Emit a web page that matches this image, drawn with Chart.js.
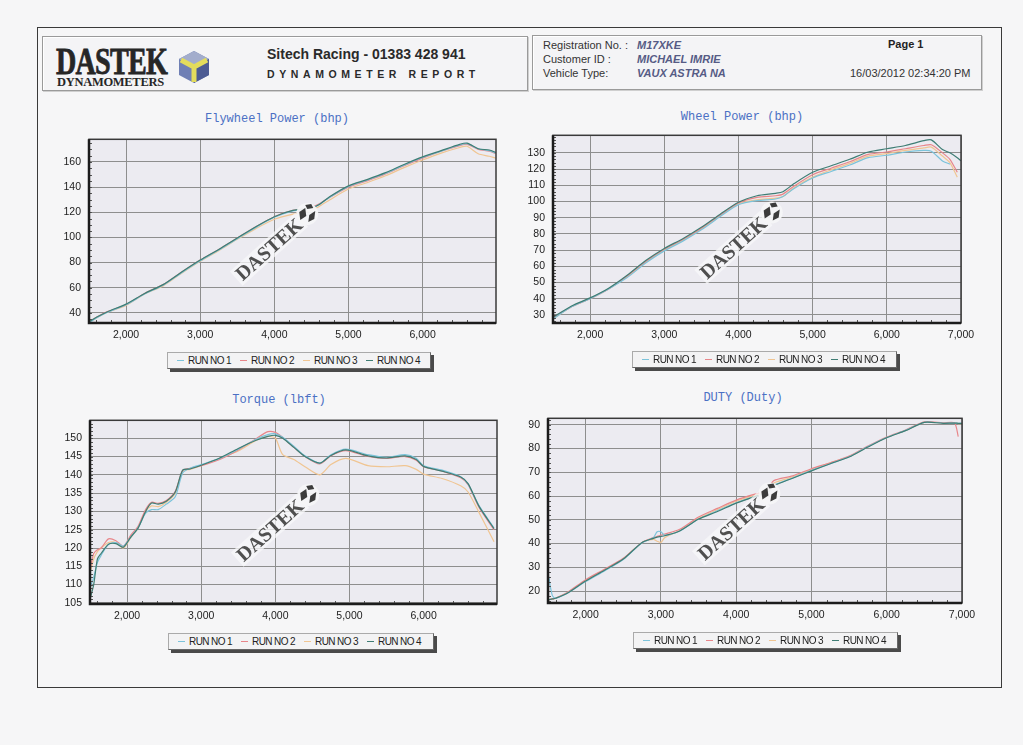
<!DOCTYPE html>
<html>
<head>
<meta charset="utf-8">
<script src="https://cdn.jsdelivr.net/npm/chart.js@4.4.1/dist/chart.umd.min.js"></script>
<style>
body{margin:0;background:#f6f6f7;width:1023px;height:745px;position:relative;overflow:hidden;font-family:"Liberation Sans",Arial,sans-serif;color:#222}
.abs{position:absolute}
#frame{left:37px;top:27px;width:963px;height:659px;border:1px solid #3a3a3a}
.hbox{border:1px solid #9a9a9a;box-shadow:inset 1px 1px 0 #fff,1px 1px 0 #cfcfcf;background:#f4f4f6}
.lbl{font-size:11px;color:#333}
.val{font-size:11px;font-weight:bold;font-style:italic;color:#565b85}
.ttl{font-family:"Liberation Mono","Courier New",monospace;font-size:12px;color:#4b70c4;width:240px;text-align:center}
.legend{height:15px;border:1px solid #666;border-top-color:#aaa;border-left-color:#aaa;background:#f3f3f4;box-shadow:3px 3px 0 #4a4a4a;display:flex;align-items:center;font-size:10px;letter-spacing:-0.6px;color:#222}
.legend .it{width:63px;display:flex;align-items:center;white-space:nowrap}
.legend .ln{display:inline-block;width:8px;height:1px;margin:0 4px 0 9px}
canvas{position:absolute}
</style>
</head>
<body>
<div id="frame" class="abs"></div>

<div class="abs hbox" style="left:42px;top:36px;width:484px;height:53px"></div>
<div class="abs" style="left:56px;top:40px;font-family:'Liberation Serif',serif;font-weight:bold;font-size:37px;color:#262626;transform:scaleX(0.76);transform-origin:left top;letter-spacing:-1px;-webkit-text-stroke:0.8px #262626">DASTEK</div>
<div class="abs" style="left:57px;top:75px;font-family:'Liberation Serif',serif;font-weight:bold;font-size:12.5px;color:#262626;letter-spacing:-0.3px">DYNAMOMETERS</div>
<svg class="abs" style="left:176px;top:49px" width="36" height="36" viewBox="0 0 36 36">
  <polygon points="18,2 33,10 33,26 18,34 3,26 3,10" fill="#6f7fb5"/>
  <polygon points="18,2 33,10 18,18 3,10" fill="#a3adcc"/>
  <polygon points="18,18 33,10 33,26 18,34" fill="#4c5b93"/>
  <path d="M18,18 L18,33 M18,18 L5,11 M18,18 L31,11" stroke="#e3dc5c" stroke-width="5" fill="none"/>
</svg>
<div class="abs" style="left:267px;top:46px;font-size:14px;font-weight:bold;color:#2a2a2a">Sitech Racing - 01383 428 941</div>
<div class="abs" style="left:267px;top:68px;font-size:10.5px;font-weight:bold;letter-spacing:4.6px;color:#2a2a2a">DYNAMOMETER REPORT</div>

<div class="abs hbox" style="left:532px;top:35px;width:448px;height:53px"></div>
<div class="abs lbl" style="left:543px;top:39px">Registration No. :</div>
<div class="abs lbl" style="left:543px;top:53px">Customer ID :</div>
<div class="abs lbl" style="left:543px;top:67px">Vehicle Type:</div>
<div class="abs val" style="left:637px;top:39px">M17XKE</div>
<div class="abs val" style="left:637px;top:53px">MICHAEL IMRIE</div>
<div class="abs val" style="left:637px;top:67px">VAUX ASTRA NA</div>
<div class="abs lbl" style="left:888px;top:38px;font-weight:bold;color:#222">Page 1</div>
<div class="abs lbl" style="left:850px;top:67px">16/03/2012 02:34:20 PM</div>

<div class="abs ttl" style="left:157px;top:112px">Flywheel Power (bhp)</div>
<div class="abs ttl" style="left:622px;top:110px">Wheel Power (bhp)</div>
<div class="abs ttl" style="left:159px;top:393px">Torque (lbft)</div>
<div class="abs ttl" style="left:623px;top:391px">DUTY (Duty)</div>

<canvas id="c1" width="470" height="225" style="left:40px;top:125px"></canvas>
<canvas id="c2" width="480" height="229" style="left:505px;top:121px"></canvas>
<canvas id="c3" width="470" height="226" style="left:40px;top:406px"></canvas>
<canvas id="c4" width="480" height="226" style="left:505px;top:404px"></canvas>

<div id="lg1" class="abs legend" style="left:167px;top:352px;width:262px"></div>
<div id="lg2" class="abs legend" style="left:632px;top:351px;width:263px"></div>
<div id="lg3" class="abs legend" style="left:168px;top:633px;width:264px"></div>
<div id="lg4" class="abs legend" style="left:633px;top:632px;width:263px"></div>

<script>
const runNames = ["RUN NO 1","RUN NO 2","RUN NO 3","RUN NO 4"];
const runColors = ["#7cc3da","#e8868a","#f0c592","#3f7d74"];

// x tick labels (rpm) shared by all four charts
const rpmTicks = [2000,3000,4000,5000,6000,7000];

// Flywheel power (bhp)
const fwTicks = [40,60,80,100,120,140,160];
const fwRpm  = [1500,1600,1750,2000,2250,2500,2750,3000,3250,3500,3750,4000,4250,4500,4600,4750,5000,5250,5500,5750,6000,6250,6500,6600,6750,6900,6990];
const fwRun1 = [32,36,40.5,46.5,55,62,72,81.5,90,99,108,116,121,123.5,126,132,140.5,145.5,151,157.5,163.5,168.5,173.5,174.5,170.5,169,167];
const fwRun2 = [33,36.5,41,46.5,55.5,62.5,72.5,82,90.5,99.5,108.5,116.5,121.5,124,126.5,132,140,145,150.5,157,163,168.5,173,174,170,168.5,166.5];
const fwRun3 = [32.5,36,40.5,46,55,61.5,71.5,81,89.5,98.5,107,114.5,118.5,121.5,124.5,130,138.5,143.5,149,155.5,161.5,167,171.5,172.5,166.5,164.5,163];
const fwRun4 = [33,36.5,41,47,55.5,62.5,72.5,82,90.5,99.5,108.5,116.5,121.5,123.5,126,132.5,141,146,151.5,158,164,169,174,175,170.5,169.5,167.5];

// Wheel power (bhp)
const wpTicks = [30,40,50,60,70,80,90,100,110,120,130];
const wpRpm  = [1500,1750,2000,2250,2500,2750,3000,3250,3500,3750,4000,4250,4500,4600,4750,5000,5250,5500,5750,6000,6250,6500,6600,6750,6850,6950,7000];
const wpRun1 = [27.5,35,40,46,53,62,69.5,75.5,82.5,90.5,98,100.5,101.5,103,108,114.5,118.5,122.5,127,128.5,130.5,131.5,131,125,123,null,null];
const wpRun2 = [28,35,40,46,54,63,70.5,76.5,83.5,91.5,99,102.5,103.5,104.5,109.5,116.5,120.5,124.5,129,130.5,132.5,134.5,135,130,126,118,null];
const wpRun3 = [27.5,35,40,46,53.5,62.5,70,76,83,91,98.5,101,102,103,108.5,115,119.5,123.5,128,129.5,131.5,133,133.5,128,124,115,null];
const wpRun4 = [28.5,35.5,40.5,46.5,54.5,63.5,71,77,84,92,99.5,103.5,105,106,111,118,122,126,130.5,132.5,134.5,137.5,138,132,130,127,125];

// Torque (lbft)
const tqTicks = [105,110,115,120,125,130,135,140,145,150];
const tqRpm  = [1500,1550,1600,1650,1750,1850,1950,2050,2150,2250,2330,2420,2530,2650,2750,2850,3000,3250,3500,3750,3900,4000,4100,4250,4400,4600,4750,4950,5250,5500,5750,5900,6000,6250,6500,6600,6750,6950];
const tqRun1 = [109,112,116,118,121,121.5,120.5,123,125.5,129.5,130.5,130.5,132,134,140.5,141.8,142.8,144.5,147,149.8,151,151.2,150.3,147.8,145.2,143.2,145.5,147,145.5,144.8,145.5,144.5,142.5,141.3,139.5,137.5,131.5,125.5];
const tqRun2 = [114,118.5,119.5,120,122.5,122,120.5,123.5,126,130.5,132.5,132.2,133,135.5,141.2,141.8,142.5,144.2,146.8,150,151.8,151.6,150.2,147.5,145,143,145.2,146.6,145,144.5,145,144,142.2,141,139.2,137.3,131,125];
const tqRun3 = [113,117,119,120,121.5,121.5,120,122.8,125.5,130,131.5,131.3,132.5,135,141,141.5,142.5,144.5,146.5,149.5,150.5,150,145.5,144.2,142.2,140,142.8,144.5,142.5,142.2,142.5,141.5,140.2,139,137,135.3,129.6,121.7];
const tqRun4 = [106,110,117,118.5,121,121.2,120.2,123,125.5,130,132.3,132,132.8,135.3,141.3,141.6,142.6,144.6,147.2,149.5,150.5,150.8,150,147.5,145,143.2,145.3,146.8,145.2,144.6,145.2,144.2,142.3,141,139.4,137.6,131.3,125.3];

// Duty (%)
const dyTicks = [20,30,40,50,60,70,80,90];
const dyRpm  = [1500,1510,1530,1560,1600,1750,2000,2250,2500,2750,2900,2950,3000,3050,3250,3500,3750,4000,4250,4400,4450,4500,4750,5000,5250,5500,5750,6000,6250,6500,6750,6900,6950,7000];
const dyRun1 = [25,26,22,18,17,19,24,28.5,33.3,40.3,42.5,45,45,43.5,45.3,50.3,53.8,57.2,59.8,61.2,62.5,64.5,67.6,70.8,73.6,76.5,80.8,84.6,87.6,91,90.6,90.7,90.6,90.6];
const dyRun2 = [16.3,16.4,16.5,16.7,17,19.3,24.8,29.2,33.8,40.5,42.5,43,43.5,44,46,51.2,54.8,58.3,60.8,62,64.5,66.5,68.5,71.5,74,76.8,81,84.8,87.8,91.2,90.8,90.8,85,null];
const dyRun3 = [16.3,16.4,16.5,16.7,17,19.2,24.5,29,33.5,40.5,41.8,41,40.5,42.5,45.5,50.6,54.3,57.8,60.3,61.6,63,65.5,68,71.2,74,76.6,80.8,84.6,87.6,91,90.6,90.8,90.5,90.5];
const dyRun4 = [16.3,16.4,16.5,16.7,17,19,24.3,28.8,33.5,40.5,42.2,42.7,43,43.3,45.3,50.3,53.5,57,59.8,61.3,62.5,64.3,67.5,70.6,73.6,76.4,80.6,84.5,87.5,91,90.6,90.7,90.6,90.6];

const FONT = '"Liberation Sans", Arial, sans-serif';

function commas(v){ return String(v).replace(/\B(?=(\d{3})+(?!\d))/g, ","); }

// plot background, frame, minor ticks and the DASTEK watermark
const dynoPlugin = {
  id: "dyno",
  beforeDraw(chart){
    const a = chart.chartArea, ctx = chart.ctx;
    ctx.save(); ctx.fillStyle = "#ecebf1"; ctx.fillRect(a.left, a.top, a.right-a.left, a.bottom-a.top); ctx.restore();
  },
  afterDatasetsDraw(chart){
    const a = chart.chartArea, ctx = chart.ctx;
    const cx = a.left + (a.right-a.left)*0.443, cy = a.top + (a.bottom-a.top)*0.6;
    ctx.save();
    ctx.translate(cx, cy); ctx.rotate(-42*Math.PI/180);
    ctx.fillStyle = "rgba(248,248,250,0.75)"; ctx.fillRect(-44,-10,88,19);
    ctx.font = 'bold 20px "Liberation Serif", serif';
    ctx.fillStyle = "#4f4f4f"; ctx.textAlign = "center"; ctx.textBaseline = "middle";
    ctx.fillText("DASTEK", 0, 1);
    // small cube
    ctx.translate(52, -1); ctx.rotate(42*Math.PI/180);
    ctx.fillStyle = "rgba(245,245,247,0.95)";
    ctx.beginPath(); ctx.arc(0,0,11,0,Math.PI*2); ctx.fill();
    ctx.fillStyle = "#3c3c3c";
    ctx.beginPath(); ctx.moveTo(-8,-2); ctx.lineTo(-2,-6); ctx.lineTo(-1,2); ctx.lineTo(-7,6); ctx.fill();
    ctx.beginPath(); ctx.moveTo(2,1); ctx.lineTo(8,-3); ctx.lineTo(7,5); ctx.lineTo(1,8); ctx.fill();
    ctx.beginPath(); ctx.moveTo(-2,-9); ctx.lineTo(4,-10); ctx.lineTo(6,-6); ctx.lineTo(0,-5); ctx.fill();
    ctx.restore();
  },
  afterDraw(chart, args, opts){
    const a = chart.chartArea, ctx = chart.ctx, xs = chart.scales.x, ys = chart.scales.y;
    ctx.save();
    ctx.strokeStyle = "#555"; ctx.lineWidth = 1;
    ctx.beginPath();
    for (let v = 1600; v < xs.max; v += 200) {
      if (v % 1000 === 0) continue;
      const px = Math.round(xs.getPixelForValue(v)) + 0.5;
      ctx.moveTo(px, a.bottom); ctx.lineTo(px, a.bottom - 3);
    }
    const ms = opts.minor;
    for (let v = Math.ceil(ys.min/ms)*ms; v < ys.max; v += ms) {
      const py = Math.round(ys.getPixelForValue(v)) + 0.5;
      ctx.moveTo(a.left, py); ctx.lineTo(a.left + 3, py);
    }
    ctx.stroke();
    ctx.strokeStyle = "#3a3a3a"; ctx.lineWidth = 1.5;
    ctx.strokeRect(a.left, a.top, a.right-a.left, a.bottom-a.top);
    ctx.strokeStyle = "#1c1c1c"; ctx.lineWidth = 2.5;
    ctx.beginPath(); ctx.moveTo(a.left, a.top); ctx.lineTo(a.left, a.bottom); ctx.lineTo(a.right, a.bottom); ctx.stroke();
    ctx.restore();
  }
};

function dyno(id, rpm, runs, yTicks, o){
  return new Chart(document.getElementById(id), {
    type: "line",
    data: {
      datasets: runs.map((r, i) => ({
        label: runNames[i],
        data: rpm.map((x, j) => ({x: x, y: r[j]})),
        borderColor: runColors[i],
        borderWidth: 1.2,
        pointRadius: 0,
        tension: 0.25,
        fill: false,
        order: i === 3 ? 0 : i + 1
      }))
    },
    options: {
      responsive: false,
      animation: false,
      layout: {padding: {top: o.padTop, right: o.padRight, left: 0, bottom: 0}},
      plugins: {legend: {display: false}, tooltip: {enabled: false}, dyno: {minor: o.minor}},
      scales: {
        x: {
          type: "linear", min: 1500, max: o.xMax,
          afterFit: s => { s.height = o.xH; },
          afterBuildTicks: s => { s.ticks = rpmTicks.filter(v => v <= o.xMax).map(v => ({value: v})); },
          grid: {color: "#8e8e8e", drawTicks: false},
          border: {display: false},
          ticks: {padding: 6, maxRotation: 0, autoSkip: false,
                  color: "#222", font: {family: FONT, size: 10.5}, callback: v => commas(v)}
        },
        y: {
          min: o.yMin, max: o.yMax,
          afterFit: s => { s.width = o.yW; },
          afterBuildTicks: s => { s.ticks = yTicks.map(v => ({value: v})); },
          grid: {color: "#8e8e8e", drawTicks: false},
          border: {display: false},
          ticks: {padding: 8, autoSkip: false, color: "#222", font: {family: FONT, size: 10.5}}
        }
      }
    },
    plugins: [dynoPlugin]
  });
}

dyno("c1", fwRpm, [fwRun1, fwRun2, fwRun3, fwRun4], fwTicks, {padTop: 8, padRight: 14, yW: 49, xH: 27, xMax: 6990, yMin: 32, yMax: 178, minor: 5});
dyno("c2", wpRpm, [wpRun1, wpRun2, wpRun3, wpRun4], wpTicks, {padTop: 8, padRight: 24, yW: 48, xH: 27, xMax: 7000, yMin: 25, yMax: 140.8, minor: 2});
dyno("c3", tqRpm, [tqRun1, tqRun2, tqRun3, tqRun4], tqTicks, {padTop: 8, padRight: 13, yW: 50, xH: 28, xMax: 6990, yMin: 104.7, yMax: 154.9, minor: 1});
dyno("c4", dyRpm, [dyRun1, dyRun2, dyRun3, dyRun4], dyTicks, {padTop: 8, padRight: 23, yW: 43, xH: 27, xMax: 7000, yMin: 15, yMax: 92.7, minor: 2});

["lg1","lg2","lg3","lg4"].forEach(id => {
  const box = document.getElementById(id);
  runNames.forEach((n, i) => {
    const it = document.createElement("div"); it.className = "it";
    const ln = document.createElement("span"); ln.className = "ln"; ln.style.background = runColors[i];
    it.appendChild(ln); it.appendChild(document.createTextNode(n));
    box.appendChild(it);
  });
});
</script>
</body>
</html>
